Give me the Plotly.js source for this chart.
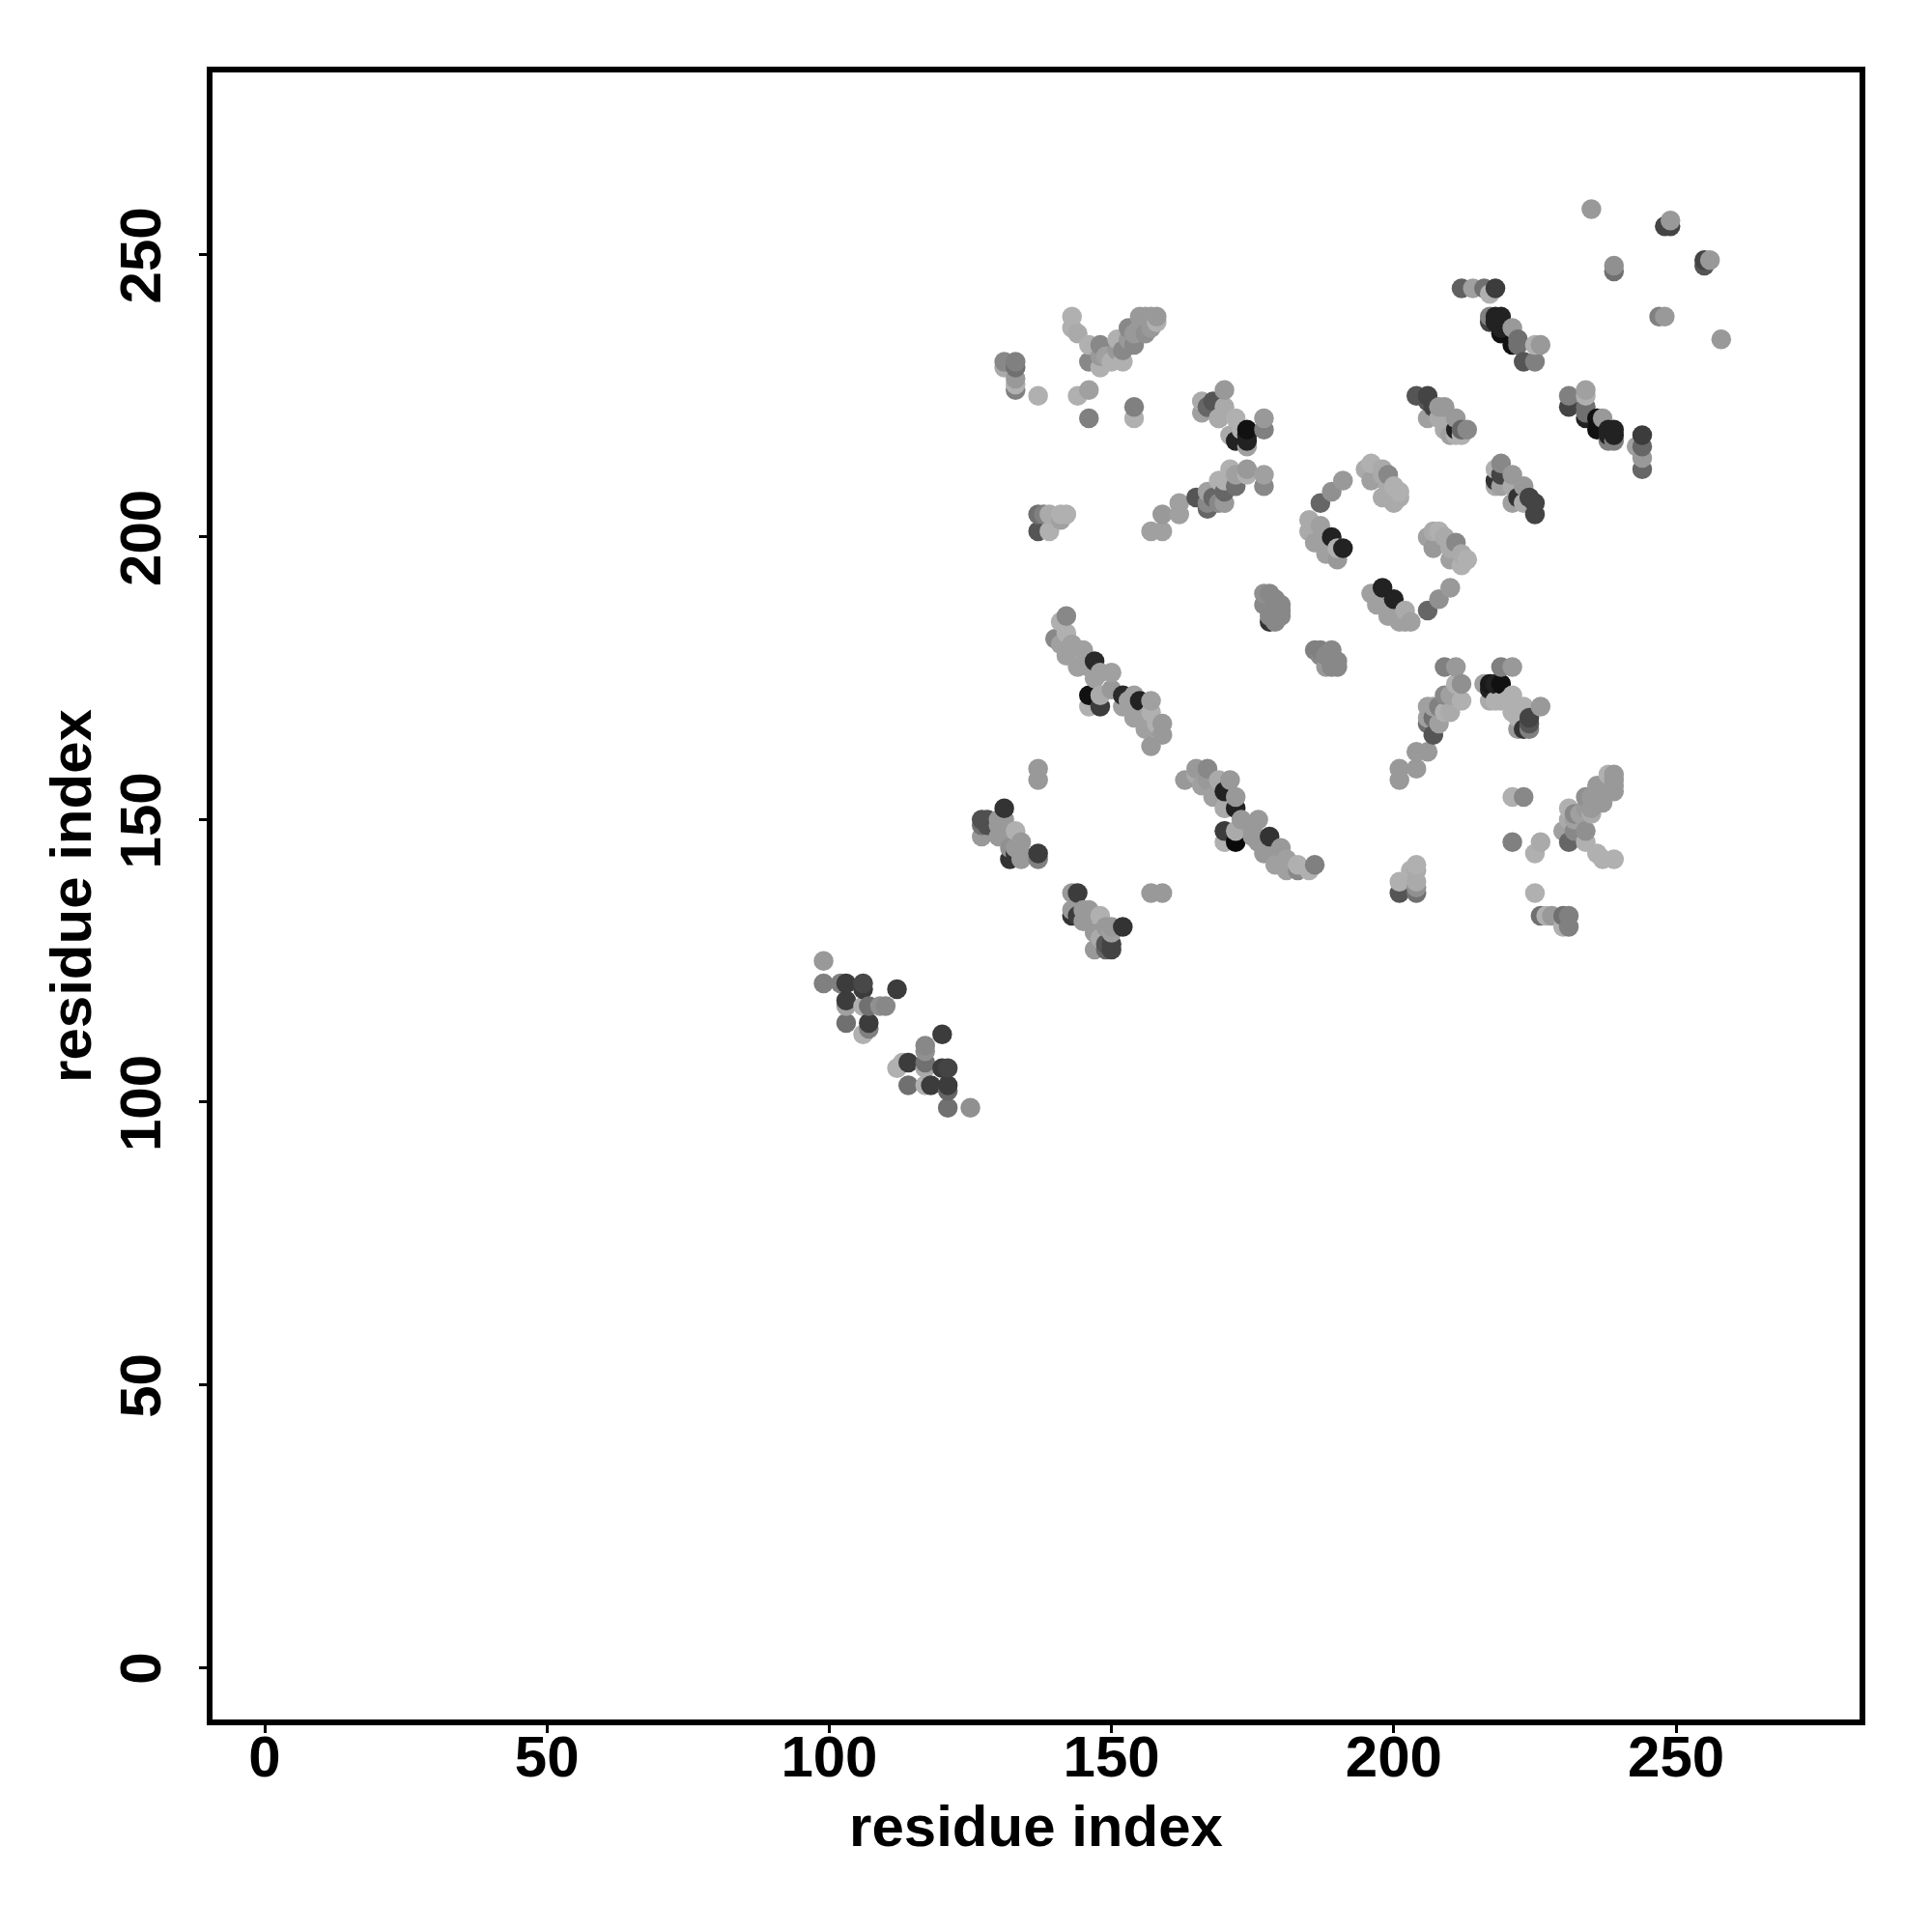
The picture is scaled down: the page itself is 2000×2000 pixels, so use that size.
<!DOCTYPE html>
<html><head><meta charset="utf-8">
<script src="https://cdn.plot.ly/plotly-3.0.1.min.js"></script>
<style>html,body{margin:0;padding:0;background:#fff}</style></head>
<body><div id="chart" style="width:2000px;height:2000px"></div>
<script>
const xTicks = [0, 50, 100, 150, 200, 250];
const yTicks = [0, 50, 100, 150, 200, 250];
const axisTitle = "residue index";
// residue i, residue j, grey level of the dot
const residueI = [99,99,102,103,106,106,112,103,103,106,107,109,110,103,107,107,106,
120,117,117,112,113,114,117,117,120,121,114,117,118,121,121,121,125,
137,137,131,127,128,127,128,127,130,131,130,130,131,133,132,134,134,134,133,132,133,137,137,
143,144,157,159,143,145,146,143,144,148,145,147,149,150,152,147,149,150,150,149,148,150,
142,141,140,142,141,143,145,142,144,147,146,148,150,147,146,148,146,148,150,152,154,155,157,152,153,154,156,157,158,159,159,157,156,
163,165,167,165,166,167,169,171,170,172,168,170,172,173,176,170,172,172,170,175,178,177,180,179,181,181,183,183,185,186,176,178,175,
204,206,207,201,204,201,204,203,204,201,204,204,201,204,
209,211,211,212,209,210,212,206,208,210,209,206,206,208,207,207,
219,221,216,217,218,219,217,218,221,220,217,219,223,226,221,222,222,222,224,224,224,223,
221,223,221,226,225,225,226,227,228,230,231,230,231,
231,230,231,231,232,232,232,234,234,236,237,239,233,234,235,235,234,235,236,236,237,237,238,239,239,239,239,
235,249,248,249,239,239,256,255,255,247,248,258,
212,214,216,217,218,217,217,218,219,218,219,219,221,221,222,222,225,226,223,225,
204,206,206,207,206,208,209,208,211,209,211,212,213,210,211,212,
231,231,234,234,234,234,234,236,237,236,238,239,238,239,239,238,
244,243,244,244,244,
219,218,219,218,219,221,218,221,223,221,223,222,224,225,225,
170,166,168,167,166,167,169,170,169,172,171,177,177,174,174,174,174,172,173,
162,162,159,157,159,165,167,167,167,168,169,170,169,170,170,171,172,172,174,174,177,177,
143,143,144,146,148,146,148,148,150,152,149,151,151,152,153,153,154,153,154,155,156,157,158,156,158,155,157,
131,133,131,133,133,133,133,137,144,146,146,154,154,
137,138,139,137,139,141,142,141,
191,189,187,
185,185,187,189,191,186,188,190,190,
196,195,196,199,198,198,198,200,201,201,199,200,199,
206,207,208,207,209,211,210,210,212,213,212,
210,208,206,
196,198,200,197,199,201,202,203,202,200,
178,179,177,178,177,179,180,180,180,178,179,
186,187,188,189,190,188,188,187,189,190,189];
const residueJ = [125,121,121,121,121,120,120,118,117,117,117,117,117,114,114,113,112,
112,110,109,106,107,107,107,106,106,106,103,103,103,102,103,99,99,
159,157,152,150,150,149,149,147,150,150,149,147,148,148,145,146,144,143,145,143,144,144,143,
137,137,137,137,134,134,134,133,133,133,132,130,131,131,131,127,127,128,127,128,129,130,
186,185,182,183,181,181,180,179,177,178,177,176,176,175,172,172,170,170,173,172,172,171,171,170,171,168,166,169,167,167,165,163,168,
157,159,159,158,156,157,157,157,155,154,154,152,152,150,150,148,148,146,146,147,147,144,145,142,143,141,142,141,141,142,146,144,148,
162,162,165,159,159,157,142,141,141,139,139,138,137,137,
177,177,174,174,172,172,171,170,170,169,169,168,167,167,170,168,
177,177,174,174,174,174,173,171,172,171,171,171,170,170,169,170,168,166,168,167,166,166,
154,154,146,146,144,137,133,133,133,133,133,131,131,
146,148,152,150,148,150,151,148,146,144,143,143,151,152,152,151,154,154,155,156,155,153,158,158,157,156,155,
258,256,255,255,248,247,249,249,248,239,239,235,
244,244,244,243,244,239,238,239,239,238,237,236,237,234,235,234,234,234,231,231,
225,225,224,223,221,223,223,221,221,219,219,219,219,218,218,218,
225,223,226,225,223,222,221,221,221,219,219,219,217,217,218,218,
218,216,216,214,212,
213,212,211,210,209,211,209,209,209,206,206,207,207,206,204,
226,224,224,223,222,223,221,223,221,221,218,221,219,219,218,217,216,217,219,
206,204,204,201,201,207,208,206,205,207,206,206,210,208,210,212,209,211,211,212,211,209,
239,237,236,234,234,231,230,232,231,231,232,235,233,233,237,234,234,235,236,239,239,239,239,236,238,237,237,
231,231,230,230,228,227,226,225,225,226,221,223,221,
204,204,204,201,201,204,204,203,
210,208,206,
203,201,202,200,198,199,197,196,198,
213,212,210,211,211,212,207,206,208,207,209,209,207,
200,198,201,201,200,199,198,196,197,196,195,
191,189,187,
190,191,189,188,186,185,187,185,185,187,
185,185,190,190,188,189,187,186,188,186,186,
180,180,179,177,177,179,177,179,178,178,180];
const greyLevel = [153,128,128,60,72,60,60,60,160,176,112,144,136,112,60,128,176,
60,136,144,176,176,60,112,170,60,68,112,176,60,102,60,112,144,
153,153,51,80,80,112,80,153,153,153,153,153,153,176,144,153,153,153,153,51,51,60,128,
153,60,153,153,153,153,153,51,60,176,153,153,153,153,51,153,102,68,68,85,170,160,
136,176,136,176,160,160,160,160,160,42,160,160,160,160,17,170,176,60,153,42,160,34,160,160,160,160,160,176,176,153,153,153,160,
153,153,136,170,160,153,170,153,34,153,160,170,34,153,153,60,170,10,176,153,51,153,153,160,160,160,176,136,176,128,153,153,153,
153,153,85,153,153,153,176,176,170,176,170,144,85,112,
128,153,176,144,136,160,176,160,128,170,176,160,112,160,160,112,
128,153,160,26,34,17,34,176,176,176,170,176,176,153,176,176,176,153,68,85,128,51,
176,136,128,170,176,176,112,176,153,112,128,176,128,
102,160,176,170,136,160,136,144,176,176,176,176,160,153,153,170,144,153,153,153,153,153,176,153,153,153,153,
153,153,68,68,144,112,153,68,85,128,153,153,
96,160,112,176,60,128,68,34,34,34,34,17,153,17,112,112,176,153,85,128,
85,68,85,68,160,153,153,170,153,170,34,102,136,160,176,176,
128,68,160,176,112,112,34,17,153,17,34,34,128,128,34,34,
60,160,102,153,102,
136,176,68,51,160,153,170,170,153,160,170,51,68,68,68,
153,170,85,102,160,102,176,170,170,176,170,153,128,17,34,34,160,34,176,
160,160,153,160,160,85,160,136,102,102,136,153,176,102,176,176,112,160,176,153,160,136,
176,176,170,176,136,136,176,153,176,176,160,176,153,136,136,136,136,153,153,153,153,153,153,144,176,153,153,
136,128,170,112,153,176,128,176,176,160,128,128,176,
112,128,170,85,176,176,176,160,
153,144,102,
170,170,160,34,34,160,160,153,176,
176,170,160,136,170,170,170,170,176,170,170,176,170,
160,153,176,170,170,136,170,160,170,176,176,
153,144,102,
160,34,34,160,160,160,170,160,160,160,
51,136,144,136,136,136,136,136,136,136,136,
128,128,136,136,136,136,153,136,136,136,136];

const order = residueI.map((_, k) => k).sort((a, b) =>
  residueI[a] - residueI[b] || residueJ[a] - residueJ[b]);

const tickFont = {family: "Liberation Sans, Arial, sans-serif", size: 60, color: "#000", weight: 700};
const titleFont = {family: "Liberation Sans, Arial, sans-serif", size: 60, color: "#000", weight: 700};

Plotly.newPlot("chart", [{
  type: "scatter",
  mode: "markers",
  x: order.map(k => residueI[k]),
  y: order.map(k => residueJ[k]),
  marker: {
    size: 20.5,
    color: order.map(k => `rgb(${greyLevel[k]},${greyLevel[k]},${greyLevel[k]})`),
    line: {width: 0}
  },
  hoverinfo: "x+y"
}], {
  width: 2000, height: 2000,
  showlegend: false,
  paper_bgcolor: "#fff", plot_bgcolor: "#fff",
  margin: {l: 219.5, r: 75, t: 75, b: 220, pad: 0},
  xaxis: {
    range: [-9.24, 282.5], tickvals: xTicks, ticktext: xTicks.map(String),
    showgrid: false, zeroline: false, showline: true, mirror: true,
    linecolor: "#000", linewidth: 6,
    ticks: "outside", ticklen: 8, tickwidth: 3, tickcolor: "#000",
    tickfont: tickFont, ticklabelstandoff: -27,
    title: {text: axisTitle, font: titleFont, standoff: 20}
  },
  yaxis: {
    range: [-9.23, 282.2], tickvals: yTicks, ticktext: yTicks.map(String),
    showgrid: false, zeroline: false, showline: true, mirror: true,
    linecolor: "#000", linewidth: 6,
    ticks: "outside", ticklen: 8, tickwidth: 3, tickcolor: "#000",
    tickfont: tickFont, tickangle: -90, ticklabelstandoff: 16, ticklabelshift: 10,
    title: {text: axisTitle, font: titleFont, standoff: 0}
  }
}, {staticPlot: true, displayModeBar: false});
</script></body></html>
